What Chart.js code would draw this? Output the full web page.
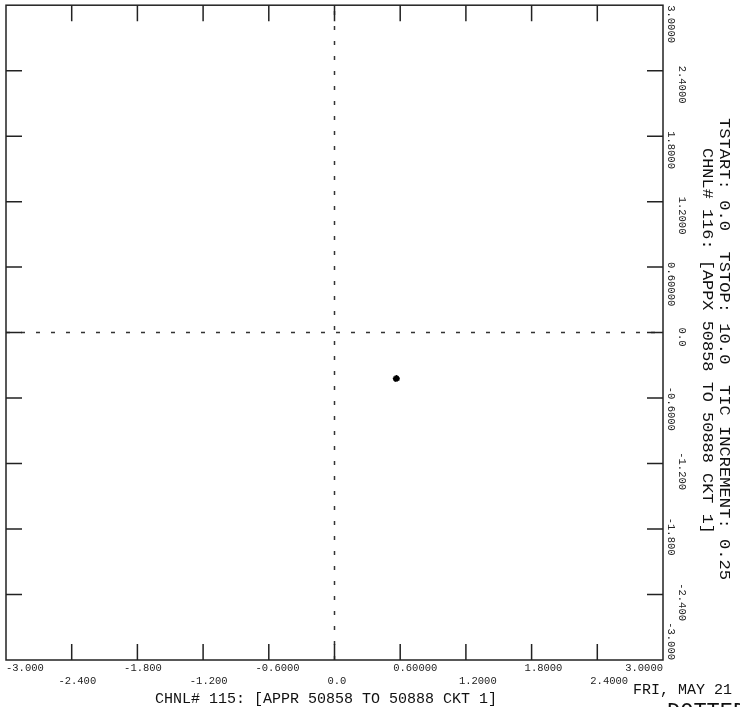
<!DOCTYPE html>
<html>
<head>
<meta charset="utf-8">
<script src="https://cdn.jsdelivr.net/npm/chart.js@4"></script>
<style>
html,body{margin:0;padding:0;background:#fff;overflow:hidden;}
canvas{display:block;}
</style>
</head>
<body>
<canvas id="c" width="740" height="707"></canvas>
<script>
// ---- data ----
const tickValues = [-3, -2.4, -1.8, -1.2, -0.6, 0, 0.6, 1.2, 1.8, 2.4, 3];
const xTickLabels = ["-3.000","-2.400","-1.800","-1.200","-0.6000","0.0","0.60000","1.2000","1.8000","2.4000","3.0000"];
const yTickLabels = ["-3.000","-2.400","-1.800","-1.200","-0.6000","0.0","0.60000","1.2000","1.8000","2.4000","3.0000"];
const pointX = [0.555, 0.565, 0.575, 0.560, 0.570];
const pointY = [-0.420, -0.412, -0.424, -0.430, -0.418];
const hLineX = [-3, 3];
const hLineY = [0, 0];
const vLineX = [0, 0];
const vLineY = [-3, 3];
const xTitle = "CHNL# 115: [APPR 50858 TO 50888 CKT 1]";
const yTitle = "CHNL# 116: [APPX 50858 TO 50888 CKT 1]";
const infoText = "TSTART: 0.0  TSTOP: 10.0  TIC INCREMENT: 0.25";
const dateText = "FRI, MAY 21";
const footText = "DOTTED";

const toXY = (xs, ys) => xs.map((v, i) => ({x: v, y: ys[i]}));

function vText(ctx, txt, cx, sy, len) {
  const w = ctx.measureText(txt).width;
  ctx.save();
  ctx.translate(cx, sy);
  ctx.rotate(Math.PI / 2);
  ctx.scale(len / w, 1);
  ctx.fillText(txt, 0, 0);
  ctx.restore();
}

const decor = {
  id: 'decor',
  afterDraw(chart) {
    const {ctx, chartArea: {left, right, top, bottom}, scales: {x, y}} = chart;
    ctx.save();
    ctx.strokeStyle = '#222';
    ctx.lineWidth = 1.5;
    ctx.strokeRect(left, top, right - left, bottom - top);
    const tl = 16;
    ctx.beginPath();
    tickValues.forEach(v => {
      if (v === tickValues[0] || v === tickValues[tickValues.length - 1]) return;
      const px = x.getPixelForValue(v);
      ctx.moveTo(px, top); ctx.lineTo(px, top + tl);
      ctx.moveTo(px, bottom); ctx.lineTo(px, bottom - tl);
      const py = y.getPixelForValue(v);
      ctx.moveTo(left, py); ctx.lineTo(left + tl, py);
      ctx.moveTo(right, py); ctx.lineTo(right - tl, py);
    });
    ctx.stroke();

    // tick labels
    ctx.fillStyle = '#222';
    ctx.font = '10.5px "Liberation Mono"';
    ctx.textBaseline = 'middle';
    ctx.textAlign = 'left';
    const cw = ctx.measureText('0').width;
    tickValues.forEach((v, i) => {
      const lab = xTickLabels[i];
      const w = ctx.measureText(lab).width;
      let lx = x.getPixelForValue(v) - 7 - (v < 0 ? cw : 0);
      lx = Math.max(left, Math.min(right - w, lx));
      const ly = bottom + (i % 2 === 0 ? 8 : 21);
      ctx.fillText(lab, lx, ly);
    });
    tickValues.forEach((v, i) => {
      const lab = yTickLabels[i];
      const w = ctx.measureText(lab).width;
      let sy = y.getPixelForValue(v) - 5 - (v < 0 ? cw : 0);
      sy = Math.max(top, Math.min(bottom - w, sy));
      const cx = right + (i % 2 === 0 ? 8 : 19);
      ctx.save();
      ctx.translate(cx, sy);
      ctx.rotate(Math.PI / 2);
      ctx.fillText(lab, 0, 0);
      ctx.restore();
    });

    // titles
    ctx.font = '15px "Liberation Mono"';
    ctx.fillStyle = '#111';
    ctx.fillText(xTitle, 155, 699);
    ctx.fillText(dateText, 633, 690);
    vText(ctx, yTitle, 707, 148, 386);
    vText(ctx, infoText, 724, 118, 462);
    ctx.font = '22px "Liberation Mono"';
    ctx.textBaseline = 'top';
    ctx.fillText(footText, 667, 701);
    ctx.restore();
  }
};

new Chart(document.getElementById('c'), {
  type: 'scatter',
  data: {
    datasets: [
      {
        data: toXY(pointX, pointY),
        pointStyle: 'star',
        pointRadius: 2.5,
        pointBackgroundColor: '#000',
        pointBorderColor: '#000',
        pointBorderWidth: 1.2
      },
      {
        type: 'line',
        data: toXY(hLineX, hLineY),
        borderColor: '#333',
        borderWidth: 1.5,
        borderDash: [4, 11],
        pointRadius: 0,
        fill: false
      },
      {
        type: 'line',
        data: toXY(vLineX, vLineY),
        borderColor: '#333',
        borderWidth: 1.5,
        borderDash: [4, 11],
        pointRadius: 0,
        fill: false
      }
    ]
  },
  options: {
    responsive: false,
    animation: false,
    devicePixelRatio: 1,
    layout: {padding: {left: 6, top: 3, right: 77, bottom: 47}},
    plugins: {legend: {display: false}, tooltip: {enabled: false}},
    scales: {
      x: {type: 'linear', min: -3, max: 3, display: false},
      y: {type: 'linear', min: -3, max: 3, display: false}
    }
  },
  plugins: [decor]
});
</script>
</body>
</html>
